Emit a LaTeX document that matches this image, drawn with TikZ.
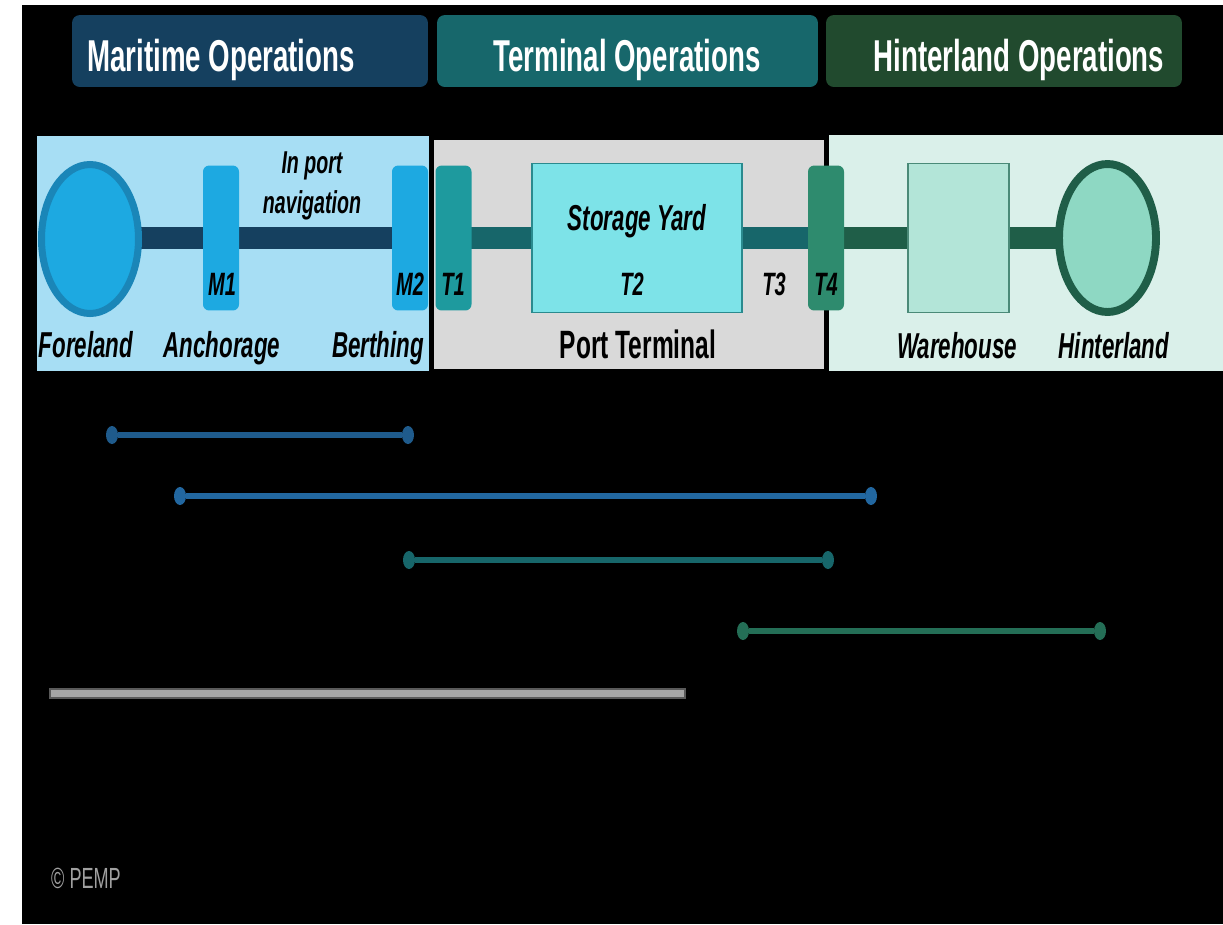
\documentclass[tikz,border=0pt]{standalone}
\usepackage{fontspec}
\setmainfont{Liberation Sans}[FakeStretch=0.62]
\usetikzlibrary{shapes.geometric}
\pgfdeclarelayer{bg}
\pgfdeclarelayer{mid}
\pgfsetlayers{bg,mid,main}

\definecolor{hdrMar}{HTML}{15405F}
\definecolor{hdrTer}{HTML}{17676B}
\definecolor{hdrHin}{HTML}{214A2E}
\definecolor{panelMar}{HTML}{A7DEF4}
\definecolor{panelTer}{HTML}{D9D9D9}
\definecolor{panelHin}{HTML}{DAF0EA}
\definecolor{foreFill}{HTML}{1DA9E1}
\definecolor{foreLine}{HTML}{1A86B8}
\definecolor{gateM}{HTML}{1DA9E1}
\definecolor{gateTa}{HTML}{1E9A9E}
\definecolor{gateTb}{HTML}{2E8B6E}
\definecolor{barMar}{HTML}{15405F}
\definecolor{barTer}{HTML}{17666A}
\definecolor{barHin}{HTML}{1F5E48}
\definecolor{yardFill}{HTML}{7DE3E8}
\definecolor{yardLine}{HTML}{2A8A8E}
\definecolor{whFill}{HTML}{B3E5D8}
\definecolor{whLine}{HTML}{4A8A78}
\definecolor{hinFill}{HTML}{8ED8C3}
\definecolor{spanA}{HTML}{1F5B8C}
\definecolor{spanB}{HTML}{2267A0}
\definecolor{spanC}{HTML}{17666A}
\definecolor{spanD}{HTML}{246E56}
\definecolor{scaleFill}{HTML}{A6A6A6}
\definecolor{scaleLine}{HTML}{5A5A5A}
\definecolor{credit}{HTML}{A0A0A0}

\begin{document}
\begin{tikzpicture}[x=0.02cm,y=-0.02cm,
  hdrbox/.style={rounded corners=4.5pt,minimum width=7.12cm,minimum height=1.44cm,inner sep=0pt},
  hdrtext/.style={text=white,anchor=base,inner sep=0pt,font=\fontsize{25.4}{30}\selectfont\bfseries},
  place/.style={anchor=base,inner sep=0pt,font=\fontsize{20.5}{24}\selectfont\bfseries\itshape},
  gatelbl/.style={anchor=base,inner sep=0pt,font=\fontsize{18.4}{22}\selectfont\bfseries\itshape},
  gatebox/.style={rounded corners=3.5pt,minimum width=0.72cm,minimum height=2.9cm,inner sep=0pt},
  bar/.style={line width=13pt},
  span/.style={line width=3.4pt},
  enddot/.style={ellipse,inner sep=0pt,minimum width=0.24cm,minimum height=0.36cm},
]
\useasboundingbox (0,0) rectangle (1223,924);

\begin{pgfonlayer}{bg}
  \fill[white] (0,0) rectangle (1223,924);
  \fill[black] (22,5) rectangle (1223,924);
  % operation zones
  \filldraw[fill=panelMar,draw=black,line width=1pt] (36,135) rectangle (430,372);
  \filldraw[fill=panelTer,draw=black,line width=1.5pt] (433,139) rectangle (825,370);
  \filldraw[fill=panelHin,draw=black,line width=1pt] (828,134) rectangle (1224,372);
\end{pgfonlayer}

% headers
\node[hdrbox,fill=hdrMar] (hm) at (250,51) {};
\node[hdrbox,fill=hdrTer,minimum width=7.62cm] (ht) at (627.5,51) {};
\node[hdrbox,fill=hdrHin] (hh) at (1004,51) {};
\node[hdrtext] (hmt) at (221,71) {Maritime Operations};
\node[hdrtext] (htt) at (627,71) {Terminal Operations};
\node[hdrtext] (hht) at (1019,71) {Hinterland Operations};

% maritime chain
\node[ellipse,draw=foreLine,fill=foreFill,line width=4pt,minimum width=1.94cm,minimum height=2.98cm,inner sep=0pt] (fore) at (90,239) {};
\node[gatebox,fill=gateM] (m1) at (221,238) {};
\node[gatebox,fill=gateM] (m2) at (410,238) {};
\node[gatelbl] (m1l) at (222,295) {M1};
\node[gatelbl] (m2l) at (410,295) {M2};
% two-line label: base anchor sits on the last line
\node[anchor=base,inner sep=0pt,align=center,font=\fontsize{18}{22.4}\selectfont\bfseries\itshape] (nav) at (312,213) {In port\\navigation};
\node[place] (forel) at (86,357) {Foreland};
\node[place] (anch) at (222,357) {Anchorage};
\node[place] (berth) at (378,357) {Berthing};

% terminal chain
\node[gatebox,fill=gateTa] (t1) at (453.5,238) {};
\node[draw=yardLine,fill=yardFill,line width=0.8pt,minimum width=4.2cm,minimum height=2.98cm,inner sep=0pt] (yard) at (637,238) {};
\node[gatebox,fill=gateTb] (t4) at (826,238) {};
\node[place] (yardl) at (637,230) {Storage Yard};
\node[gatelbl] (t1l) at (453,295) {T1};
\node[gatelbl] (t2l) at (632,295) {T2};
\node[gatelbl] (t3l) at (774,295) {T3};
\node[gatelbl] (t4l) at (826,295) {T4};
\node[anchor=base,inner sep=0pt,font=\fontsize{22.5}{26}\selectfont\bfseries] (ptl) at (638,358) {Port Terminal};

% hinterland chain
\node[draw=whLine,fill=whFill,line width=0.8pt,minimum width=2.02cm,minimum height=2.98cm,inner sep=0pt] (wh) at (958.5,238) {};
\node[ellipse,draw=barHin,fill=hinFill,line width=4.5pt,minimum width=1.94cm,minimum height=2.96cm,inner sep=0pt] (hin) at (1107.5,238) {};
\node[place] (whl) at (957,358) {Warehouse};
\node[place] (hinl) at (1114,358) {Hinterland};

% thick links run level at the gates' height
\begin{pgfonlayer}{mid}
  \draw[bar,barMar] (fore.center |- m2.center) -- (m2.center);
  \draw[bar,barTer] (t1.center) -- (t4.center);
  \draw[bar,barHin] (t4.center) -- (hin.center);
\end{pgfonlayer}

% spans
\node[enddot,fill=spanA] (a1) at (112,435) {};
\node[enddot,fill=spanA] (a2) at (408,435) {};
\draw[span,spanA] (a1) -- (a2);
\node[enddot,fill=spanB] (b1) at (180,496) {};
\node[enddot,fill=spanB] (b2) at (871,496) {};
\draw[span,spanB] (b1) -- (b2);
\node[enddot,fill=spanC] (c1) at (409,560) {};
\node[enddot,fill=spanC] (c2) at (828,560) {};
\draw[span,spanC] (c1) -- (c2);
\node[enddot,fill=spanD] (d1) at (743,631) {};
\node[enddot,fill=spanD] (d2) at (1100,631) {};
\draw[span,spanD] (d1) -- (d2);

\node[draw=scaleLine,fill=scaleFill,line width=0.8pt,minimum width=12.7cm,minimum height=0.18cm,inner sep=0pt] (scale) at (367.5,693.5) {};

\node[anchor=base,inner sep=0pt,text=credit,font=\fontsize{16.6}{20}\selectfont] (pemp) at (86,888) {© PEMP};
\end{tikzpicture}
\end{document}
